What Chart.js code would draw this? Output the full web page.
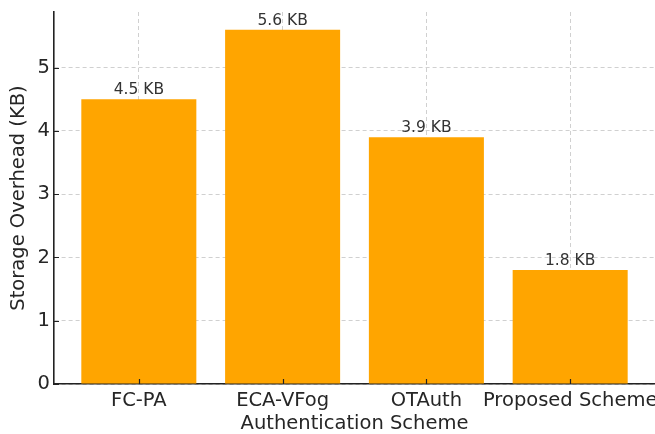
<!DOCTYPE html>
<html>
<head>
<meta charset="utf-8">
<script src="https://cdn.jsdelivr.net/npm/chart.js@4/dist/chart.umd.min.js"></script>
<style>
  html, body { margin: 0; padding: 0; background: #ffffff; }
  #wrap { width: 655px; height: 434px; position: relative; }
</style>
</head>
<body>
<div id="wrap"><canvas id="c" width="655" height="434"></canvas></div>
<script>
const categories = ["FC-PA", "ECA-VFog", "OTAuth", "Proposed Scheme"];
const storageKB = [4.5, 5.6, 3.9, 1.8];
const yTicks = [0, 1, 2, 3, 4, 5];
const xLabel = "Authentication Scheme";
const yLabel = "Storage Overhead (KB)";

const FONT = "'DejaVu Sans', 'Liberation Sans', sans-serif";
const TEXT = '#262626';

const barData = storageKB.map((v, i) => ({ x: i, y: v }));

const valueLabels = {
  id: 'valueLabels',
  afterDatasetsDraw(chart) {
    const ctx = chart.ctx;
    const meta = chart.getDatasetMeta(0);
    ctx.save();
    ctx.font = "15.5px " + FONT;
    ctx.fillStyle = '#333333';
    ctx.textAlign = 'center';
    ctx.textBaseline = 'alphabetic';
    meta.data.forEach((bar, i) => {
      ctx.fillText(storageKB[i].toFixed(1) + ' KB', bar.x, bar.y - 5);
    });
    ctx.restore();
  }
};

const innerTicks = {
  id: 'innerTicks',
  afterDraw(chart) {
    const ctx = chart.ctx;
    const xs = chart.scales.x, ys = chart.scales.y;
    const a = chart.chartArea;
    ctx.save();
    ctx.strokeStyle = '#222222';
    ctx.lineWidth = 1.2;
    ctx.beginPath();
    xs.ticks.forEach((t, i) => {
      const px = Math.round(xs.getPixelForTick(i)) + 0.5;
      ctx.moveTo(px, a.bottom);
      ctx.lineTo(px, a.bottom - 5);
    });
    ys.ticks.forEach((t, i) => {
      const py = Math.round(ys.getPixelForTick(i)) + 0.5;
      ctx.moveTo(a.left, py);
      ctx.lineTo(a.left + 5, py);
    });
    ctx.stroke();
    ctx.restore();
  }
};

new Chart(document.getElementById('c'), {
  type: 'bar',
  data: {
    datasets: [{
      data: barData,
      backgroundColor: '#FFA500',
      borderWidth: 0,
      categoryPercentage: 1.0,
      barPercentage: 0.8
    }]
  },
  options: {
    responsive: false,
    animation: false,
    devicePixelRatio: 1,
    layout: { padding: { top: 12, left: 0, right: 0, bottom: 0 } },
    plugins: { legend: { display: false }, tooltip: { enabled: false } },
    scales: {
      x: {
        type: 'linear',
        min: -0.59,
        max: 3.59,
        offset: false,
        z: 1,
        afterBuildTicks(scale) { scale.ticks = categories.map((c, i) => ({ value: i })); },
        afterFit(scale) { scale.height = 50; scale.paddingLeft = 0; scale.paddingRight = 0; },
        ticks: {
          autoSkip: false, maxRotation: 0, minRotation: 0, padding: 5,
          color: TEXT, font: { family: FONT, size: 19.5 },
          callback: (v) => categories[v] !== undefined ? categories[v] : ''
        },
        grid: {
          offset: false, drawTicks: false,
          color: 'rgba(170,170,170,0.55)', lineWidth: 1
        },
        border: { display: true, color: '#222222', width: 1.6, dash: [4, 3] },
        title: {
          display: true, text: xLabel, color: TEXT,
          font: { family: FONT, size: 19.5, lineHeight: 1 },
          padding: { top: 0, bottom: 0 }
        }
      },
      y: {
        min: 0,
        max: 5.88,
        z: 1,
        afterBuildTicks(scale) { scale.ticks = yTicks.map(v => ({ value: v })); },
        afterFit(scale) { scale.width = 54; scale.paddingTop = 0; scale.paddingBottom = 0; },
        ticks: {
          padding: 4, color: TEXT, font: { family: FONT, size: 19.5 },
          callback: (v) => String(v)
        },
        grid: {
          drawTicks: false,
          color: 'rgba(170,170,170,0.55)', lineWidth: 1
        },
        border: { display: true, color: '#222222', width: 1.6, dash: [4, 3] },
        title: {
          display: true, text: yLabel, color: TEXT,
          font: { family: FONT, size: 19.5, lineHeight: 1 },
          padding: { top: 9, bottom: 0 }
        }
      }
    }
  },
  plugins: [valueLabels, innerTicks]
});
</script>
</body>
</html>
